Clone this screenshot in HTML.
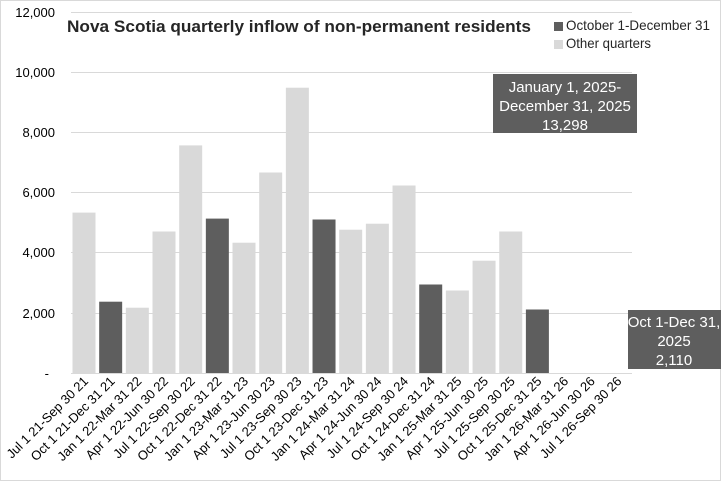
<!DOCTYPE html>
<html><head><meta charset="utf-8"><style>
html,body{margin:0;padding:0;background:#fff}
svg{display:block;font-family:"Liberation Sans",sans-serif}
</style></head><body>
<svg width="721" height="481" viewBox="0 0 721 481" xmlns="http://www.w3.org/2000/svg">
<rect x="0.5" y="0.5" width="720" height="480" fill="#fff" stroke="#d9d9d9"/>
<g stroke="#d9d9d9" stroke-width="1">
<line x1="71" y1="12.5" x2="632" y2="12.5"/>
<line x1="71" y1="72.5" x2="632" y2="72.5"/>
<line x1="71" y1="132.5" x2="632" y2="132.5"/>
<line x1="71" y1="192.5" x2="632" y2="192.5"/>
<line x1="71" y1="252.5" x2="632" y2="252.5"/>
<line x1="71" y1="313.5" x2="632" y2="313.5"/>
<line x1="71" y1="373.5" x2="632" y2="373.5"/>
</g>
<g font-size="13" fill="#000" text-anchor="end">
<text x="55" y="17">12,000</text>
<text x="55" y="77">10,000</text>
<text x="55" y="137">8,000</text>
<text x="55" y="197">6,000</text>
<text x="55" y="257">4,000</text>
<text x="55" y="318">2,000</text>
<text x="49" y="378">-</text>
</g>
<g fill="#d9d9d9">
<rect x="72.5" y="212.6" width="23" height="160.4"/>
<rect x="99.17" y="301.7" width="23" height="71.3" fill="#5e5e5e"/>
<rect x="125.84" y="307.7" width="23" height="65.3"/>
<rect x="152.51" y="231.5" width="23" height="141.5"/>
<rect x="179.18" y="145.4" width="23" height="227.6"/>
<rect x="205.85" y="218.6" width="23" height="154.4" fill="#5e5e5e"/>
<rect x="232.52" y="242.7" width="23" height="130.3"/>
<rect x="259.19" y="172.5" width="23" height="200.5"/>
<rect x="285.86" y="87.7" width="23" height="285.3"/>
<rect x="312.53" y="219.5" width="23" height="153.5" fill="#5e5e5e"/>
<rect x="339.2" y="229.7" width="23" height="143.3"/>
<rect x="365.87" y="223.7" width="23" height="149.3"/>
<rect x="392.54" y="185.5" width="23" height="187.5"/>
<rect x="419.21" y="284.5" width="23" height="88.5" fill="#5e5e5e"/>
<rect x="445.88" y="290.5" width="23" height="82.5"/>
<rect x="472.55" y="260.7" width="23" height="112.3"/>
<rect x="499.22" y="231.5" width="23" height="141.5"/>
<rect x="525.89" y="309.5" width="23" height="63.5" fill="#5e5e5e"/>
</g>
<text x="67" y="32" font-size="17" font-weight="bold" fill="#262626" textLength="464" lengthAdjust="spacingAndGlyphs">Nova Scotia quarterly inflow of non-permanent residents</text>
<rect x="554" y="22" width="9" height="9" fill="#5e5e5e"/>
<text x="566" y="30" font-size="14" fill="#262626" textLength="144" lengthAdjust="spacingAndGlyphs">October 1-December 31</text>
<rect x="554" y="40" width="9" height="9" fill="#d9d9d9"/>
<text x="566" y="48" font-size="14" fill="#262626" textLength="85" lengthAdjust="spacingAndGlyphs">Other quarters</text>
<rect x="493" y="74" width="144" height="59" fill="#5e5e5e"/>
<g font-size="15" fill="#fff" text-anchor="middle">
<text x="565" y="92">January 1, 2025-</text>
<text x="565" y="111">December 31, 2025</text>
<text x="565" y="130">13,298</text>
</g>
<rect x="628" y="310" width="93" height="59" fill="#5e5e5e"/>
<g font-size="15" fill="#fff" text-anchor="middle">
<text x="674" y="327">Oct 1-Dec 31,</text>
<text x="674" y="346">2025</text>
<text x="674" y="365">2,110</text>
</g>
<g font-size="13" fill="#000" text-anchor="end">
<text transform="translate(89,382) rotate(-45)">Jul 1 21-Sep 30 21</text>
<text transform="translate(115.67,382) rotate(-45)">Oct 1 21-Dec 31 21</text>
<text transform="translate(142.34,382) rotate(-45)">Jan 1 22-Mar 31 22</text>
<text transform="translate(169.01,382) rotate(-45)">Apr 1 22-Jun 30 22</text>
<text transform="translate(195.68,382) rotate(-45)">Jul 1 22-Sep 30 22</text>
<text transform="translate(222.35,382) rotate(-45)">Oct 1 22-Dec 31 22</text>
<text transform="translate(249.02,382) rotate(-45)">Jan 1 23-Mar 31 23</text>
<text transform="translate(275.69,382) rotate(-45)">Apr 1 23-Jun 30 23</text>
<text transform="translate(302.36,382) rotate(-45)">Jul 1 23-Sep 30 23</text>
<text transform="translate(329.03,382) rotate(-45)">Oct 1 23-Dec 31 23</text>
<text transform="translate(355.7,382) rotate(-45)">Jan 1 24-Mar 31 24</text>
<text transform="translate(382.37,382) rotate(-45)">Apr 1 24-Jun 30 24</text>
<text transform="translate(409.04,382) rotate(-45)">Jul 1 24-Sep 30 24</text>
<text transform="translate(435.71,382) rotate(-45)">Oct 1 24-Dec 31 24</text>
<text transform="translate(462.38,382) rotate(-45)">Jan 1 25-Mar 31 25</text>
<text transform="translate(489.05,382) rotate(-45)">Apr 1 25-Jun 30 25</text>
<text transform="translate(515.72,382) rotate(-45)">Jul 1 25-Sep 30 25</text>
<text transform="translate(542.39,382) rotate(-45)">Oct 1 25-Dec 31 25</text>
<text transform="translate(569.06,382) rotate(-45)">Jan 1 26-Mar 31 26</text>
<text transform="translate(595.73,382) rotate(-45)">Apr 1 26-Jun 30 26</text>
<text transform="translate(622.4,382) rotate(-45)">Jul 1 26-Sep 30 26</text>
</g>
</svg>
</body></html>
